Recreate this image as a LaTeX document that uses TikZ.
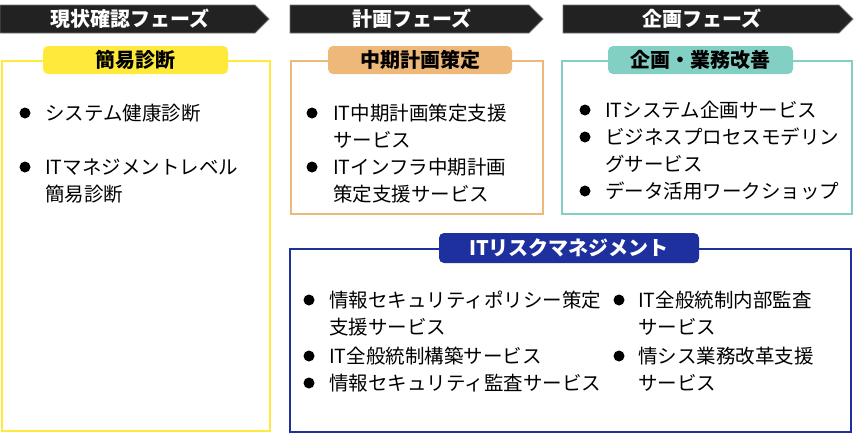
\documentclass[tikz,border=0pt]{standalone}
\usepackage{fontspec}
\setmainfont{Noto Sans CJK JP}
\usetikzlibrary{positioning}

\definecolor{phasegray}{HTML}{222222}
\definecolor{diagyellow}{HTML}{FFEA3C}
\definecolor{planorange}{HTML}{EDB878}
\definecolor{ideateal}{HTML}{82CFC4}
\definecolor{riskblue}{HTML}{1E2F9E}

\tikzset{
  phase/.style={draw=black!55, fill=phasegray, line width=0.8pt},
  phasetext/.style={text=white, inner sep=0pt, font=\bfseries\fontsize{20}{22}\selectfont},
  frame/.style={line width=2pt},
  tag/.style={rounded corners=5pt, minimum height=28pt, inner sep=0pt, font=\bfseries\fontsize{20}{22}\selectfont},
  dot/.style={circle, fill=black, inner sep=0pt, minimum size=11pt},
  entry/.style={anchor=base west, inner sep=0pt, align=left, font=\fontsize{19.5}{27}\selectfont},
}

\begin{document}
\begin{tikzpicture}[x=1pt, y=-1pt]
  \useasboundingbox (0,0) rectangle (860,434);
  % phase arrows
  \draw[phase] (0,5) -- (255,5) -- (269,19) -- (255,33) -- (0,33) -- cycle;
  \draw[phase] (290,5) -- (529,5) -- (543,19) -- (529,33) -- (290,33) -- cycle;
  \draw[phase] (563,5) -- (839,5) -- (853,19) -- (839,33) -- (563,33) -- cycle;
  \node[phasetext] (p1) at (130,19) {現状確認フェーズ};
  \node[phasetext] (p2) at (412,19) {計画フェーズ};
  \node[phasetext] (p3) at (702,19) {企画フェーズ};
  % frames
  \draw[frame, diagyellow] (2,61) rectangle (270,431);
  \draw[frame, planorange] (291,61) rectangle (543,214);
  \draw[frame, ideateal] (562,61) rectangle (852,214);
  \draw[frame, riskblue] (290,249) rectangle (851,432);
  % tags
  \node[tag, fill=diagyellow, minimum width=185pt] (t1) at (135.5,60) {簡易診断};
  \node[tag, fill=planorange, minimum width=184pt] (t2) at (420,60) {中期計画策定};
  \node[tag, fill=ideateal, minimum width=185pt] (t3) at (700.5,60) {企画・業務改善};
  \node[tag, fill=riskblue, text=white, minimum width=260pt, minimum height=30pt] (t4) at (569,248) {ITリスクマネジメント};
  % yellow box (base = last line)
  \node[dot] (yd1) at (25,113) {};
  \node[entry] (ye1) at (45,120) {システム健康診断};
  \node[dot] (yd2) at (25,167) {};
  \node[entry] (ye2) at (45,201) {ITマネジメントレベル\\簡易診断};
  % orange box
  \node[dot] (od1) at (312,113) {};
  \node[entry] (oe1) at (333,147) {IT中期計画策定支援\\サービス};
  \node[dot] (od2) at (312,167) {};
  \node[entry] (oe2) at (333,201) {ITインフラ中期計画\\策定支援サービス};
  % teal box
  \node[dot] (td1) at (585,110) {};
  \node[entry] (te1) at (605,117) {ITシステム企画サービス};
  \node[dot] (td2) at (585,137) {};
  \node[entry] (te2) at (605,171) {ビジネスプロセスモデリン\\グサービス};
  \node[dot] (td3) at (585,191) {};
  \node[entry] (te3) at (605,198) {データ活用ワークショップ};
  % blue box
  \node[dot] (bd1) at (309,300) {};
  \node[entry] (be1) at (329,334) {情報セキュリティポリシー策定\\支援サービス};
  \node[dot] (bd2) at (309,356) {};
  \node[entry] (be2) at (329,363) {IT全般統制構築サービス};
  \node[dot] (bd3) at (309,383) {};
  \node[entry] (be3) at (329,390) {情報セキュリティ監査サービス};
  \node[dot] (bd4) at (619,300) {};
  \node[entry] (be4) at (638,334) {IT全般統制内部監査\\サービス};
  \node[dot] (bd5) at (619,356) {};
  \node[entry] (be5) at (638,390) {情シス業務改革支援\\サービス};
\end{tikzpicture}
\end{document}
